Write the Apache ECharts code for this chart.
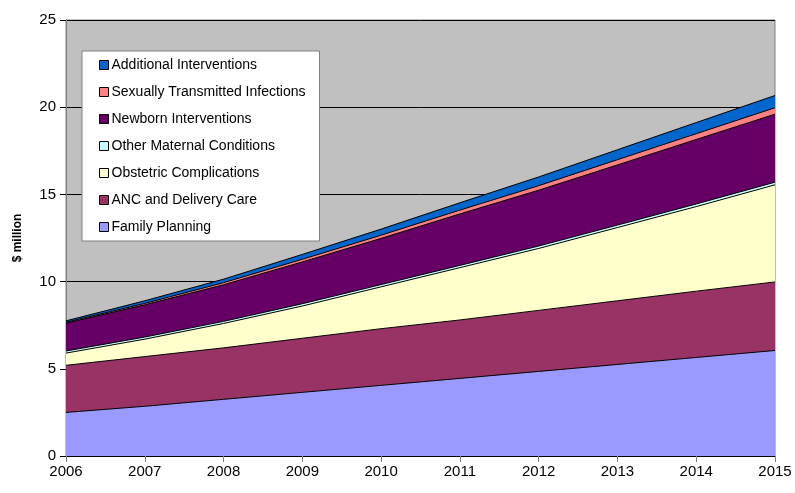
<!DOCTYPE html>
<html>
<head>
<meta charset="utf-8">
<script src="https://cdn.jsdelivr.net/npm/echarts@6/dist/echarts.min.js"></script>
<style>
  html, body { margin: 0; padding: 0; background: #fff; }
  #chart { width: 795px; height: 493px; }
</style>
</head>
<body>
<div id="chart"></div>
<script>
// years on the x axis
var years = ['2006', '2007', '2008', '2009', '2010', '2011', '2012', '2013', '2014', '2015'];

// $ million per intervention group (stacked, bottom to top)
var familyPlanning   = [2.50, 2.85, 3.25, 3.65, 4.05, 4.45, 4.85, 5.25, 5.65, 6.05];
var ancDelivery      = [2.70, 2.85, 2.95, 3.10, 3.25, 3.35, 3.50, 3.65, 3.80, 3.93];
var obstetric        = [0.70, 1.00, 1.40, 1.85, 2.40, 3.00, 3.55, 4.20, 4.85, 5.57];
var otherMaternal    = [0.12, 0.12, 0.12, 0.13, 0.13, 0.13, 0.14, 0.14, 0.15, 0.15];
var newborn          = [1.60, 1.85, 2.10, 2.40, 2.65, 2.95, 3.20, 3.45, 3.70, 3.90];
var sti              = [0.05, 0.08, 0.12, 0.15, 0.18, 0.22, 0.26, 0.30, 0.33, 0.37];
var additional       = [0.08, 0.15, 0.20, 0.28, 0.35, 0.42, 0.50, 0.57, 0.64, 0.70];

var yTicks = [0, 5, 10, 15, 20, 25];

var font = 'Liberation Sans, Arial, sans-serif';

function area(name, data, color) {
    return {
        name: name,
        type: 'line',
        stack: 'total',
        data: data,
        color: color,
        symbol: 'none',
        lineStyle: { color: '#000', width: 1 },
        areaStyle: { color: color, opacity: 1 },
        itemStyle: { color: color },
        emphasis: { disabled: true }
    };
}

var chart = echarts.init(document.getElementById('chart'));
chart.setOption({
    animation: false,
    textStyle: { fontFamily: font },
    grid: {
        left: 66, right: 20, top: 20, bottom: 37,
        show: true,
        backgroundColor: '#C0C0C0',
        borderColor: '#808080',
        borderWidth: 1
    },
    legend: {
        orient: 'vertical',
        left: 82, top: 51,
        padding: [7, 14, 7, 17],
        backgroundColor: '#fff',
        borderColor: '#808080',
        borderWidth: 1,
        icon: 'rect',
        itemWidth: 9,
        itemHeight: 9,
        itemGap: 13,
        itemStyle: { borderColor: '#000', borderWidth: 1 },
        textStyle: { fontFamily: font, fontSize: 14, lineHeight: 14, color: '#000', padding: [0, 0, 0, -2] },
        data: ['Additional Interventions', 'Sexually Transmitted Infections', 'Newborn Interventions',
               'Other Maternal Conditions', 'Obstetric Complications', 'ANC and Delivery Care', 'Family Planning']
    },
    xAxis: {
        type: 'category',
        data: years,
        boundaryGap: false,
        axisLine: { lineStyle: { color: '#000', width: 1 } },
        axisTick: { show: true, length: 6, lineStyle: { color: '#808080' } },
        axisLabel: { color: '#000', fontSize: 15, margin: 8 },
        splitLine: { show: false }
    },
    yAxis: {
        type: 'value',
        min: yTicks[0],
        max: yTicks[yTicks.length - 1],
        interval: 5,
        name: '$ million',
        nameLocation: 'middle',
        nameGap: 42,
        nameTextStyle: { fontSize: 12, fontWeight: 'bold', color: '#000' },
        axisLine: { show: true, lineStyle: { color: '#808080', width: 1 } },
        axisTick: { show: true, length: 6, lineStyle: { color: '#000' } },
        axisLabel: { color: '#000', fontSize: 15, margin: 10 },
        splitLine: { show: true, lineStyle: { color: '#000', width: 1 } }
    },
    series: [
        area('Family Planning', familyPlanning, '#9999FF'),
        area('ANC and Delivery Care', ancDelivery, '#993366'),
        area('Obstetric Complications', obstetric, '#FFFFCC'),
        area('Other Maternal Conditions', otherMaternal, '#CCFFFF'),
        area('Newborn Interventions', newborn, '#660066'),
        area('Sexually Transmitted Infections', sti, '#FF8080'),
        area('Additional Interventions', additional, '#0066CC')
    ]
});
</script>
</body>
</html>
